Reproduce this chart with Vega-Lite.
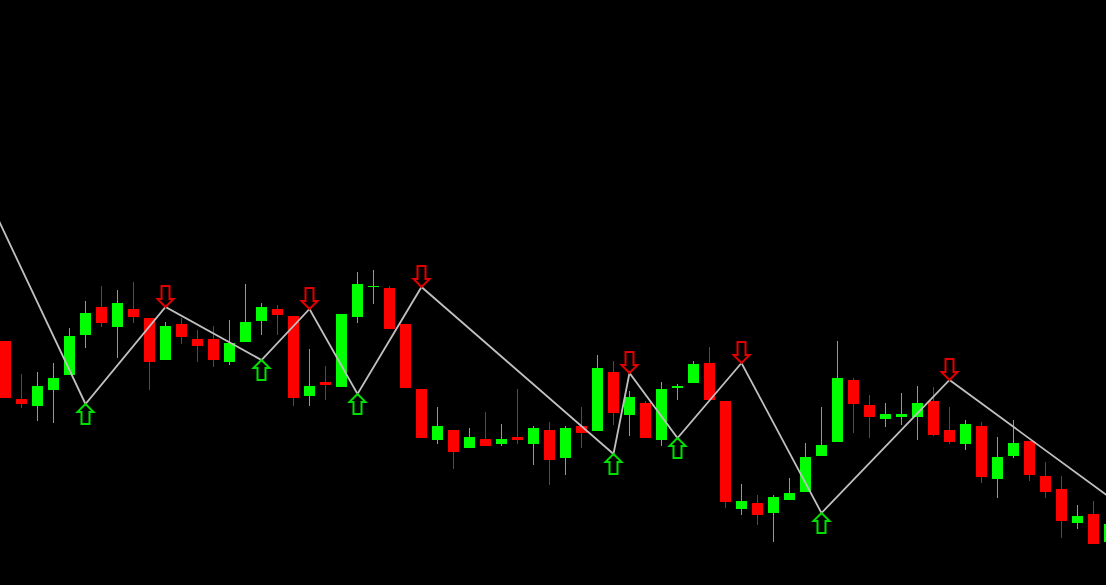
{"$schema":"https://vega.github.io/schema/vega-lite/v6.json","width":1106,"height":585,"autosize":{"type":"none"},"padding":0,"background":"#000000","config":{"view":{"stroke":null}},
"datasets":{"candles":[
{"i":0,"top":341,"bottom":398,"high":341,"low":398,"dir":"down"},
{"i":1,"top":399,"bottom":404,"high":374,"low":408,"dir":"down"},
{"i":2,"top":386,"bottom":406,"high":372,"low":421,"dir":"up"},
{"i":3,"top":378,"bottom":390,"high":363,"low":423,"dir":"up"},
{"i":4,"top":336,"bottom":375,"high":328,"low":375,"dir":"up"},
{"i":5,"top":313,"bottom":335,"high":301,"low":348,"dir":"up"},
{"i":6,"top":307,"bottom":323,"high":286,"low":327,"dir":"down"},
{"i":7,"top":303,"bottom":327,"high":290,"low":358,"dir":"up"},
{"i":8,"top":309,"bottom":317,"high":282,"low":323,"dir":"down"},
{"i":9,"top":318,"bottom":362,"high":318,"low":390,"dir":"down"},
{"i":10,"top":326,"bottom":360,"high":322,"low":360,"dir":"up"},
{"i":11,"top":324,"bottom":337,"high":318,"low":344,"dir":"down"},
{"i":12,"top":339,"bottom":346,"high":330,"low":362,"dir":"down"},
{"i":13,"top":339,"bottom":360,"high":326,"low":367,"dir":"down"},
{"i":14,"top":343,"bottom":362,"high":320,"low":365,"dir":"up"},
{"i":15,"top":322,"bottom":342,"high":284,"low":342,"dir":"up"},
{"i":16,"top":307,"bottom":321,"high":303,"low":335,"dir":"up"},
{"i":17,"top":309,"bottom":315,"high":305,"low":335,"dir":"down"},
{"i":18,"top":316,"bottom":398,"high":316,"low":406,"dir":"down"},
{"i":19,"top":386,"bottom":396,"high":349,"low":406,"dir":"up"},
{"i":20,"top":382,"bottom":385,"high":366,"low":400,"dir":"down"},
{"i":21,"top":314,"bottom":387,"high":314,"low":387,"dir":"up"},
{"i":22,"top":284,"bottom":317,"high":272,"low":323,"dir":"up"},
{"i":23,"top":286,"bottom":287,"high":270,"low":304,"dir":"up"},
{"i":24,"top":288,"bottom":329,"high":286,"low":329,"dir":"down"},
{"i":25,"top":324,"bottom":388,"high":324,"low":388,"dir":"down"},
{"i":26,"top":389,"bottom":438,"high":389,"low":438,"dir":"down"},
{"i":27,"top":426,"bottom":440,"high":407,"low":444,"dir":"up"},
{"i":28,"top":430,"bottom":452,"high":430,"low":469,"dir":"down"},
{"i":29,"top":437,"bottom":448,"high":428,"low":448,"dir":"up"},
{"i":30,"top":439,"bottom":446,"high":412,"low":446,"dir":"down"},
{"i":31,"top":439,"bottom":444,"high":424,"low":446,"dir":"up"},
{"i":32,"top":437,"bottom":440,"high":389,"low":444,"dir":"down"},
{"i":33,"top":428,"bottom":444,"high":426,"low":465,"dir":"up"},
{"i":34,"top":430,"bottom":460,"high":422,"low":485,"dir":"down"},
{"i":35,"top":428,"bottom":458,"high":426,"low":475,"dir":"up"},
{"i":36,"top":426,"bottom":433,"high":407,"low":448,"dir":"down"},
{"i":37,"top":368,"bottom":431,"high":355,"low":431,"dir":"up"},
{"i":38,"top":372,"bottom":413,"high":361,"low":425,"dir":"down"},
{"i":39,"top":397,"bottom":415,"high":391,"low":436,"dir":"up"},
{"i":40,"top":403,"bottom":438,"high":401,"low":438,"dir":"down"},
{"i":41,"top":389,"bottom":440,"high":382,"low":446,"dir":"up"},
{"i":42,"top":386,"bottom":388,"high":384,"low":400,"dir":"up"},
{"i":43,"top":364,"bottom":383,"high":361,"low":383,"dir":"up"},
{"i":44,"top":363,"bottom":400,"high":347,"low":400,"dir":"down"},
{"i":45,"top":401,"bottom":502,"high":401,"low":508,"dir":"down"},
{"i":46,"top":501,"bottom":509,"high":484,"low":515,"dir":"up"},
{"i":47,"top":503,"bottom":515,"high":495,"low":525,"dir":"down"},
{"i":48,"top":497,"bottom":513,"high":495,"low":542,"dir":"up"},
{"i":49,"top":493,"bottom":500,"high":478,"low":500,"dir":"up"},
{"i":50,"top":457,"bottom":492,"high":443,"low":492,"dir":"up"},
{"i":51,"top":445,"bottom":456,"high":407,"low":456,"dir":"up"},
{"i":52,"top":378,"bottom":442,"high":341,"low":442,"dir":"up"},
{"i":53,"top":380,"bottom":404,"high":378,"low":433,"dir":"down"},
{"i":54,"top":405,"bottom":417,"high":395,"low":438,"dir":"down"},
{"i":55,"top":414,"bottom":419,"high":403,"low":427,"dir":"up"},
{"i":56,"top":414,"bottom":417,"high":393,"low":425,"dir":"up"},
{"i":57,"top":403,"bottom":417,"high":386,"low":440,"dir":"up"},
{"i":58,"top":401,"bottom":435,"high":387,"low":436,"dir":"down"},
{"i":59,"top":430,"bottom":442,"high":407,"low":444,"dir":"down"},
{"i":60,"top":424,"bottom":444,"high":420,"low":450,"dir":"up"},
{"i":61,"top":426,"bottom":477,"high":422,"low":483,"dir":"down"},
{"i":62,"top":457,"bottom":479,"high":437,"low":498,"dir":"up"},
{"i":63,"top":443,"bottom":456,"high":420,"low":458,"dir":"up"},
{"i":64,"top":441,"bottom":475,"high":441,"low":481,"dir":"down"},
{"i":65,"top":476,"bottom":492,"high":462,"low":498,"dir":"down"},
{"i":66,"top":489,"bottom":521,"high":476,"low":538,"dir":"down"},
{"i":67,"top":516,"bottom":523,"high":505,"low":529,"dir":"up"},
{"i":68,"top":514,"bottom":544,"high":501,"low":544,"dir":"down"},
{"i":69,"top":524,"bottom":542,"high":524,"low":542,"dir":"up"}
],
"pivots":[
{"i":-1,"level":201,"kind":"none"},
{"i":5,"level":404,"kind":"low"},
{"i":10,"level":307,"kind":"high"},
{"i":16,"level":360,"kind":"low"},
{"i":19,"level":309,"kind":"high"},
{"i":22,"level":394,"kind":"low"},
{"i":26,"level":287,"kind":"high"},
{"i":38,"level":454,"kind":"low"},
{"i":39,"level":373,"kind":"high"},
{"i":42,"level":438,"kind":"low"},
{"i":46,"level":363,"kind":"high"},
{"i":51,"level":513,"kind":"low"},
{"i":59,"level":380,"kind":"high"},
{"i":70,"level":509,"kind":"none"}
]},
"encoding":{"x":{"field":"i","type":"quantitative","scale":{"domain":[-0.34375,68.78125],"padding":0,"nice":false,"zero":false},"axis":null}},
"layer":[
{"data":{"name":"candles"},"mark":{"type":"rule","strokeWidth":1,"clip":true},
"encoding":{
"y":{"field":"high","type":"quantitative","scale":{"domain":[585,0],"nice":false,"zero":false},"axis":null},
"y2":{"field":"low"},
"color":{"field":"dir","type":"nominal","scale":{"domain":["up","down"],"range":["#00ff00","#ff0000"]},"legend":null}}},
{"data":{"name":"candles"},"mark":{"type":"bar","size":11,"orient":"vertical","clip":true},
"encoding":{
"y":{"field":"top","type":"quantitative","scale":{"domain":[585,0],"nice":false,"zero":false},"axis":null},
"y2":{"field":"bottom"},
"color":{"field":"dir","type":"nominal","scale":{"domain":["up","down"],"range":["#00ff00","#ff0000"]},"legend":null}}},
{"data":{"name":"pivots"},"mark":{"type":"line","color":"#c0c0c0","strokeWidth":1.8,"clip":true},
"encoding":{"y":{"field":"level","type":"quantitative","scale":{"domain":[585,0],"nice":false,"zero":false},"axis":null},"order":{"field":"i"}}},
{"data":{"name":"pivots"},"transform":[{"filter":"datum.kind==='low'"}],"mark":{"type":"point","filled":false,"opacity":1,"size":4,"strokeWidth":2,"color":"#00e000","shape":"M0,0 L8,8 L4,8 L4,20 L-4,20 L-4,8 L-8,8 Z"},
"encoding":{"y":{"field":"level","type":"quantitative","scale":{"domain":[585,0],"nice":false,"zero":false},"axis":null}}},
{"data":{"name":"pivots"},"transform":[{"filter":"datum.kind==='high'"}],"mark":{"type":"point","filled":false,"opacity":1,"size":4,"strokeWidth":2,"color":"#e00000","shape":"M0,0 L8,-8 L4,-8 L4,-21 L-4,-21 L-4,-8 L-8,-8 Z"},
"encoding":{"y":{"field":"level","type":"quantitative","scale":{"domain":[585,0],"nice":false,"zero":false},"axis":null}}}
]}
